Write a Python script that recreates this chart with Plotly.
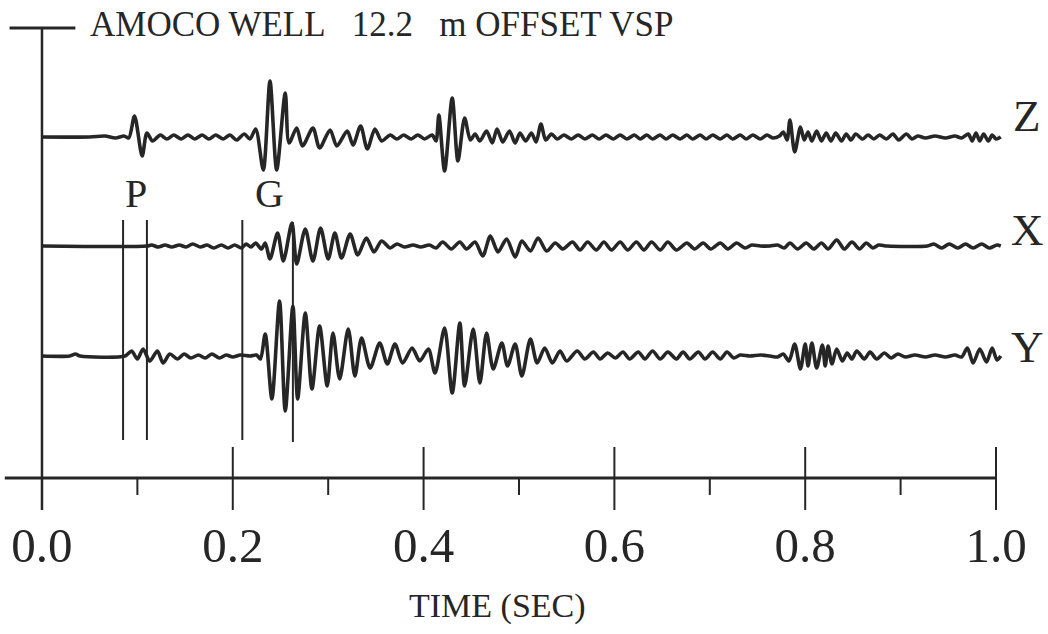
import plotly.graph_objects as go

# ---------------- data ----------------
# time in milliseconds, amplitude in arbitrary display units (up = positive)
z_time_ms = [0, 50, 66, 77, 86, 91, 97, 105, 110, 116, 124, 131, 138, 146, 153, 160, 168, 175, 182, 190,
             197, 204, 212, 218, 224, 232, 239, 246, 255, 259, 267, 273, 284, 291, 302, 309, 320, 326, 334, 341,
             349, 356, 365, 372, 379, 387, 394, 401, 409, 413, 416, 422, 430, 436, 443, 449, 454, 459, 466, 472,
             477, 483, 490, 496, 501, 507, 513, 518, 523, 528, 534, 540, 547, 555, 562, 569, 577, 584, 591, 599,
             606, 613, 621, 627, 634, 640, 648, 654, 661, 669, 676, 682, 690, 696, 703, 711, 718, 724, 732, 738,
             745, 753, 760, 766, 773, 777, 781, 784, 789, 795, 799, 803, 807, 812, 817, 822, 827, 832, 838, 843,
             848, 853, 860, 866, 872, 878, 885, 892, 898, 906, 912, 918, 926, 936, 947, 957, 964, 971, 975, 979,
             983, 987, 992, 996, 1000, 1005]
z_amp = [0, 0, 1, -1, 1, -1, 21, -19, 4, -4, 2, -2, 2, -2, 2, -2, 2, -2, 2, -2,
         2, -3, 3, -2, 8, -33, 56, -33, 44, -6, 9, -9, 9, -11, 7, -9, 6, -8, 11, -12,
         8, -4, 2, -2, 2, -2, 2, -2, 2, -4, 22, -34, 39, -24, 19, -3, 3, -4, 6, -6,
         8, -5, 6, -6, 4, -4, 4, -5, 13, -3, 3, -2, 2, -2, 2, -2, 2, -2, 2, -2,
         2, -2, 2, -2, 2, -2, 2, -2, 2, -2, 2, -2, 2, -2, 2, -2, 2, -2, 2, -2,
         2, -2, 2, -1, 1, 5, -3, 17, -15, 10, -3, 5, -4, 6, -4, 4, -4, 4, -4, 3,
         -3, 3, -2, 2, -2, 2, -2, 3, -3, 3, -2, 1, -1, 1, -1, 1, -1, 3, -4, 4,
         -4, 3, -4, 2, -2, 0]

x_time_ms = [0, 110, 115, 122, 129, 136, 144, 151, 158, 166, 173, 180, 188, 195, 202, 209, 214, 219, 224, 230,
             234, 239, 247, 253, 262, 267, 276, 284, 292, 300, 307, 314, 323, 331, 340, 348, 356, 365, 372, 380,
             389, 397, 406, 413, 420, 429, 438, 445, 454, 462, 470, 478, 487, 496, 503, 512, 520, 529, 538, 546,
             556, 564, 572, 581, 589, 597, 606, 614, 623, 631, 639, 648, 656, 665, 676, 684, 693, 701, 711, 719,
             728, 737, 744, 753, 763, 771, 778, 784, 792, 801, 809, 817, 824, 833, 841, 849, 857, 864, 871, 877,
             886, 928, 935, 943, 951, 960, 968, 976, 985, 993, 1001, 1005]
x_amp = [0, 0, 1, -1, 1, -1, 1, -1, 2, -1, 1, -2, 1, -2, 1, -2, 2, -1, 3, -3,
         3, -13, 13, -15, 23, -18, 17, -15, 18, -13, 13, -12, 12, -9, 8, -6, 5, -2, 2, -1,
         1, -1, 1, -2, 4, -3, 4, -3, 4, -10, 10, -6, 7, -11, 5, -5, 8, -5, 3, -3,
         4, -4, 4, -4, 4, -4, 4, -4, 4, -4, 4, -4, 4, -4, 3, -3, 3, -3, 3, -3,
         3, -2, 1, 0, 0, 1, -2, 3, -3, 3, -3, 3, -3, 6, -3, 4, -3, 3, -2, 1,
         0, 0, 2, -2, 2, -2, 2, -2, 2, -2, 1, 0]

y_time_ms = [0, 29, 35, 40, 87, 94, 100, 106, 113, 121, 127, 134, 142, 149, 156, 164, 171, 178, 186, 193,
             200, 208, 218, 225, 229, 234, 241, 249, 255, 263, 268, 276, 283, 291, 299, 305, 312, 321, 328, 335,
             344, 354, 362, 370, 378, 388, 396, 405, 412, 422, 430, 438, 443, 452, 459, 466, 473, 482, 488, 496,
             503, 512, 519, 527, 535, 543, 550, 561, 569, 578, 585, 593, 601, 609, 616, 625, 632, 640, 648, 656,
             665, 672, 679, 688, 695, 703, 711, 718, 725, 732, 742, 753, 763, 771, 777, 783, 789, 795, 800, 803,
             807, 812, 818, 821, 824, 828, 833, 839, 844, 849, 854, 862, 868, 875, 883, 890, 897, 905, 915, 926,
             936, 947, 957, 964, 970, 976, 983, 990, 996, 1001, 1005]
y_amp = [0, 0, 2, 0, 0, 5, -3, 7, -5, 5, -7, 2, -3, 2, -2, 1, -2, 2, -2, 1,
         -1, 1, 0, 1, -3, 22, -43, 55, -55, 50, -43, 43, -33, 30, -30, 23, -23, 27, -20, 18,
         -12, 13, -8, 12, -7, 8, -5, 7, -17, 28, -37, 33, -30, 27, -27, 23, -13, 13, -10, 12,
         -20, 17, -7, 8, -7, 5, -5, 5, -3, 4, -3, 3, -2, 4, -3, 4, -3, 5, -3, 4,
         -3, 4, -3, 4, -3, 4, -3, 4, -2, 1, 0, 1, 0, -1, 2, -5, 12, -13, 12, -10,
         13, -12, 11, -10, 10, -8, 7, -5, 3, -3, 5, -3, 4, -3, 3, -2, 2, -1, 1, -1,
         1, -1, 1, -1, 8, -7, 7, -6, 8, -4, 0]

trace_names = ["Z", "X", "Y"]
trace_times = [z_time_ms, x_time_ms, y_time_ms]
trace_amps = [z_amp, x_amp, y_amp]

pick_times = [0.085, 0.110, 0.210, 0.263]          # vertical pick lines (s)
phase_labels = ["P", "G"]
phase_label_times = [0.099, 0.239]

major_ticks = [0.0, 0.2, 0.4, 0.6, 0.8, 1.0]
major_tick_text = ["0.0", "0.2", "0.4", "0.6", "0.8", "1.0"]
minor_ticks = [0.1, 0.3, 0.5, 0.7, 0.9]

title_text = "AMOCO WELL\u00a0\u00a0 12.2\u00a0\u00a0 m OFFSET VSP"
x_title = "TIME (SEC)"

# ---------------- layout / style constants ----------------
INK = "#262626"
SERIF = "Liberation Serif, Times New Roman, serif"
offsets = [341, 232, 122]       # baseline of each trace (display units)
label_y = [362, 248, 131]

fig = go.Figure()

for name, tt, aa, off in zip(trace_names, trace_times, trace_amps, offsets):
    fig.add_trace(go.Scatter(
        x=[t / 1000.0 for t in tt],
        y=[off + a for a in aa],
        mode="lines",
        line=dict(color=INK, width=3.6, shape="spline", smoothing=0.8),
        name=name, showlegend=False, hoverinfo="skip"))

# axis line and ticks
fig.add_shape(type="line", xref="x", yref="y", x0=-0.039, x1=1.001, y0=0, y1=0,
              line=dict(color=INK, width=3.2))
fig.add_shape(type="line", xref="x", yref="y", x0=0, x1=0, y0=450, y1=-32,
              line=dict(color=INK, width=2.5))
fig.add_shape(type="line", xref="x", yref="y", x0=-0.034, x1=0.035, y0=450, y1=450,
              line=dict(color=INK, width=3))
for t in major_ticks[1:]:
    fig.add_shape(type="line", xref="x", yref="y", x0=t, x1=t, y0=31, y1=-32,
                  line=dict(color=INK, width=2))
for t in minor_ticks:
    fig.add_shape(type="line", xref="x", yref="y", x0=t, x1=t, y0=0, y1=-17,
                  line=dict(color=INK, width=2))

# pick lines
for i, t in enumerate(pick_times):
    top, bot = (256, 36) if i == 3 else (258, 38)
    fig.add_shape(type="line", xref="x", yref="y", x0=t, x1=t, y0=top, y1=bot,
                  line=dict(color=INK, width=2))

# phase labels
for lab, t in zip(phase_labels, phase_label_times):
    fig.add_annotation(x=t, y=285, xref="x", yref="y", text=lab, showarrow=False,
                       font=dict(family=SERIF, size=40, color=INK))

# component labels
for lab, ly in zip(trace_names, label_y):
    fig.add_annotation(x=1.0325, y=ly, xref="x", yref="y", text=lab, showarrow=False,
                       font=dict(family=SERIF, size=45, color=INK))

# title
fig.add_annotation(x=0.048, y=454, xref="x", yref="y", text=title_text, showarrow=False,
                   xanchor="left", yanchor="middle",
                   font=dict(family=SERIF, size=35, color=INK))

# x-axis title (below the plot area, paper-referenced vertically)
fig.add_annotation(x=0.477, y=-0.184, xref="x", yref="paper", text=x_title, showarrow=False,
                   xanchor="center", yanchor="middle",
                   font=dict(family=SERIF, size=34, color=INK))

fig.update_layout(
    width=1048, height=634,
    margin=dict(l=0, r=0, t=0, b=122),
    paper_bgcolor="white", plot_bgcolor="white",
    xaxis=dict(range=[-0.0440, 1.0545], showgrid=False, zeroline=False, showline=False,
               tickmode="array", tickvals=major_ticks, ticktext=major_tick_text, ticks="",
               tickfont=dict(family=SERIF, size=49, color=INK), fixedrange=True),
    yaxis=dict(range=[-34, 478], visible=False, fixedrange=True),
)

fig.write_html("out.html", config={"displayModeBar": False},
               post_script="document.body.style.margin='0';document.body.style.overflow='hidden';")
